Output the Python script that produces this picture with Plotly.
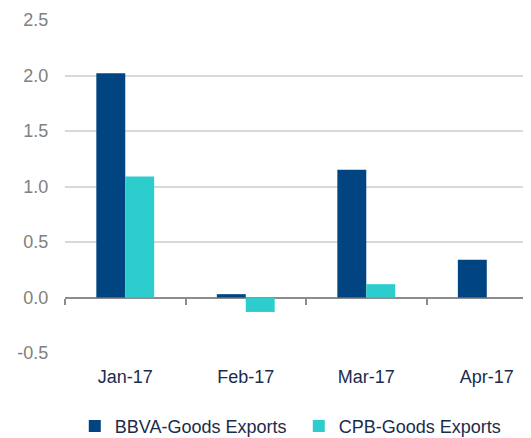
import plotly.graph_objects as go

months = ["Jan-17", "Feb-17", "Mar-17", "Apr-17"]
bbva_goods = [2.02, 0.03, 1.15, 0.34]
cpb_goods = [1.09, -0.13, 0.12, None]
y_ticks = [-0.5, 0.0, 0.5, 1.0, 1.5, 2.0, 2.5]

FONT = "Liberation Sans, Arial, sans-serif"
NAVY = "#1C2B4B"
GRAY = "#808080"

fig = go.Figure()
fig.add_trace(go.Bar(name="BBVA-Goods Exports", x=months, y=bbva_goods,
                     marker=dict(color="#004481", line=dict(width=0))))
fig.add_trace(go.Bar(name="CPB-Goods Exports", x=months, y=cpb_goods,
                     marker=dict(color="#2DCCCD", line=dict(width=0))))
# invisible helper trace so the zero-line tick axis is drawn
fig.add_trace(go.Scatter(x=[0], y=[0], xaxis="x2", mode="markers",
                         marker=dict(opacity=0), showlegend=False, hoverinfo="skip"))

xr = [-0.5, 3.367]
bounds = [i - 0.5 for i in range(len(months) + 1)]

# page body has an 8px default margin, so the figure is sized 8px smaller
fig.update_layout(
    width=523, height=430,
    margin=dict(l=57, r=0, t=11.5, b=85, autoexpand=False),
    paper_bgcolor="white", plot_bgcolor="white",
    barmode="group", bargap=0.52, bargroupgap=0,
    font=dict(family=FONT, size=18, color=NAVY),
    showlegend=True,
    legend=dict(orientation="h", x=0.021, xanchor="left", y=-0.22, yanchor="middle",
                font=dict(family=FONT, size=18, color=NAVY),
                entrywidth=179, itemwidth=30, traceorder="normal"),
    xaxis=dict(type="category", range=xr, showgrid=False, showline=False, zeroline=False,
               automargin=False,
               ticks="outside", ticklen=7, tickcolor="rgba(0,0,0,0)",
               tickfont=dict(family=FONT, size=18, color=NAVY)),
    xaxis2=dict(overlaying="x", anchor="free", position=1/6, range=xr,
                tickmode="array", tickvals=bounds, showticklabels=False,
                ticks="outside", ticklen=6, tickwidth=1.5, tickcolor="#8C8C8C",
                showgrid=False, showline=False, zeroline=False),
    yaxis=dict(range=[-0.5, 2.5], tickmode="array", tickvals=y_ticks,
               ticktext=[f"{v:.1f}" for v in y_ticks], automargin=False,
               showgrid=True, gridcolor="#D9D9D9", gridwidth=1.5,
               zeroline=True, zerolinecolor="#8C8C8C", zerolinewidth=1.5,
               showline=False, ticks="outside", ticklen=12, tickcolor="rgba(0,0,0,0)",
               tickfont=dict(family=FONT, size=18, color=GRAY)),
)

fig.write_html("out.html")
